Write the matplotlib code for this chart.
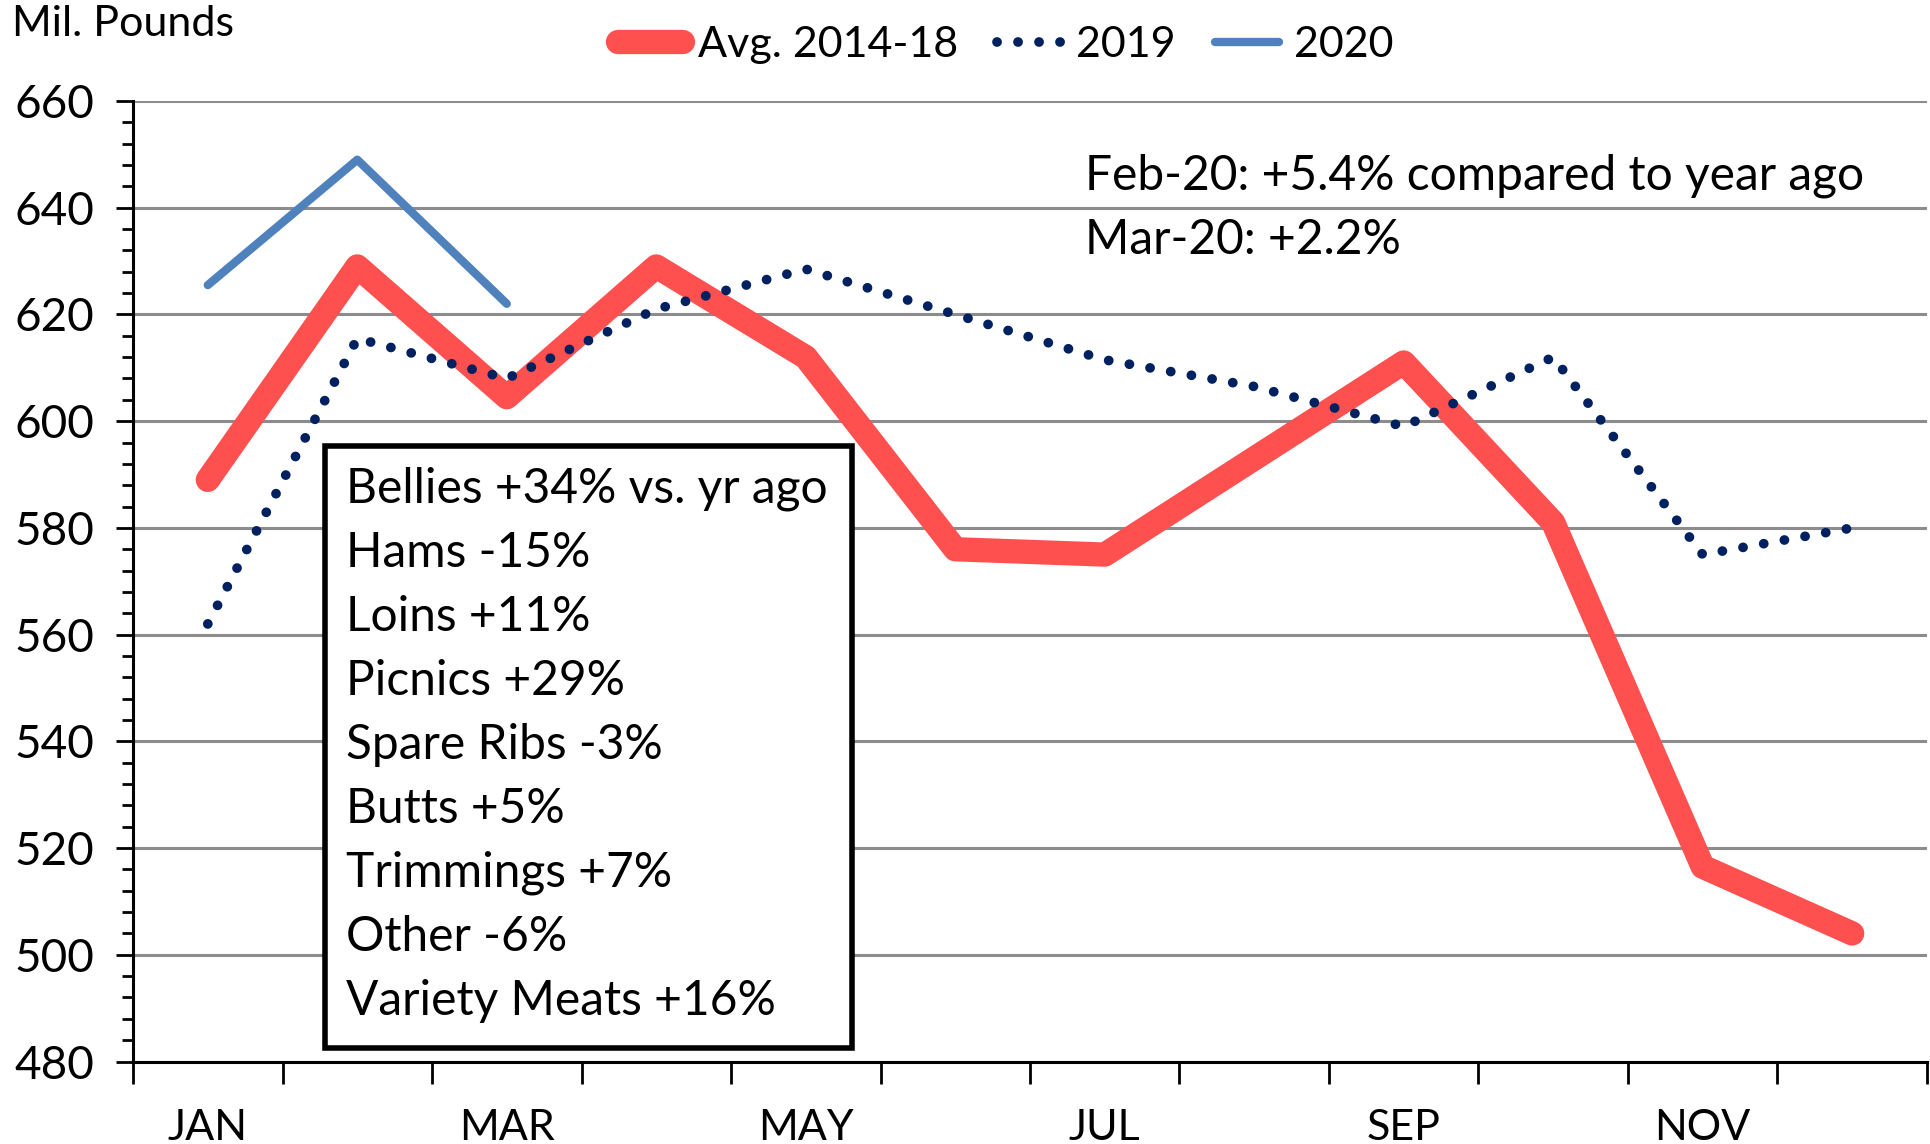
import matplotlib
matplotlib.use("Agg")
import matplotlib.pyplot as plt
from matplotlib.patches import Rectangle
from matplotlib.ticker import MultipleLocator, FixedLocator, NullFormatter

plt.rcParams['font.family'] = ['Lato', 'DejaVu Sans']

months = ["JAN", "FEB", "MAR", "APR", "MAY", "JUN", "JUL", "AUG", "SEP", "OCT", "NOV", "DEC"]
avg_2014_18 = [589, 629, 604.5, 629, 612, 576, 575, 593, 611, 581, 516.5, 504]
y2019 = [562, 615.5, 608, 621, 628.5, 620, 611.5, 606.5, 599, 612, 575, 580]
y2020 = [625.5, 649, 622]
tick_labels = ["JAN", "", "MAR", "", "MAY", "", "JUL", "", "SEP", "", "NOV", ""]
box_lines = ["Bellies +34% vs. yr ago", "Hams -15%", "Loins +11%", "Picnics +29%",
             "Spare Ribs -3%", "Butts +5%", "Trimmings +7%", "Other -6%",
             "Variety Meats +16%"]
note_lines = ["Feb-20: +5.4% compared to year ago", "Mar-20: +2.2%"]

fig = plt.figure(figsize=(19.31, 11.44), dpi=100)
ax = fig.add_axes([0.0689, 0.0721, 0.929, 0.8396])

x = list(range(len(months)))
l1, = ax.plot(x, avg_2014_18, color="#FF5050", lw=17.5, solid_capstyle="round",
              solid_joinstyle="round", label="Avg. 2014-18", zorder=3)
l2, = ax.plot(x, y2019, color="#002060", lw=7, linestyle=(0, (0.01, 2.15)),
              dash_capstyle="round", label="2019", zorder=4)
l3, = ax.plot(x[:len(y2020)], y2020, color="#4F81BD", lw=6,
              solid_capstyle="round", label="2020", zorder=4)

ax.set_xlim(-0.5, 11.5)
ax.set_ylim(480, 660)
ax.yaxis.set_major_locator(MultipleLocator(20))
ax.yaxis.set_minor_locator(MultipleLocator(4))
ax.grid(axis="y", which="major", color="#8C8C8C", lw=2.2, zorder=0)
ax.set_axisbelow(True)

ax.xaxis.set_major_locator(FixedLocator([i - 0.5 for i in range(13)]))
ax.xaxis.set_major_formatter(NullFormatter())
ax.set_xticks(x, tick_labels, minor=True)
ax.tick_params(axis="x", which="major", direction="out", length=16, width=2, color="black")
ax.tick_params(axis="x", which="minor", length=0, pad=34, labelsize=31)
ax.tick_params(axis="y", which="major", direction="out", length=12, width=2, labelsize=33, pad=16)
ax.tick_params(axis="y", which="minor", direction="out", length=8, width=2)

for s in ["top", "right"]:
    ax.spines[s].set_visible(False)
for s in ["left", "bottom"]:
    ax.spines[s].set_linewidth(2.2)
    ax.spines[s].set_color("black")

fig.text(0.006, 0.979, "Mil. Pounds", fontsize=31, ha="left", va="center")

fig.legend(handles=[l1, l2, l3], loc="center", bbox_to_anchor=(0.521, 0.961),
           ncol=3, frameon=False, fontsize=31, handlelength=1.5,
           handletextpad=0.35, columnspacing=0.9)

note_y = [0.922, 0.8557]
for txt, yy in zip(note_lines, note_y):
    ax.text(0.5305, yy, txt, transform=ax.transAxes, fontsize=34.5,
            ha="left", va="center")

ax.add_patch(Rectangle((0.1071, 0.0141), 0.2937, 0.6269, transform=ax.transAxes,
                       facecolor="white", edgecolor="black", linewidth=4, zorder=6))
for i, txt in enumerate(box_lines):
    yy = (862 - 397 - 52 * i) / 780
    ax.text(0.1187, yy, txt, transform=ax.transAxes, fontsize=34.5,
            ha="left", va="center", zorder=7)

fig.savefig("out.png", dpi=100)
